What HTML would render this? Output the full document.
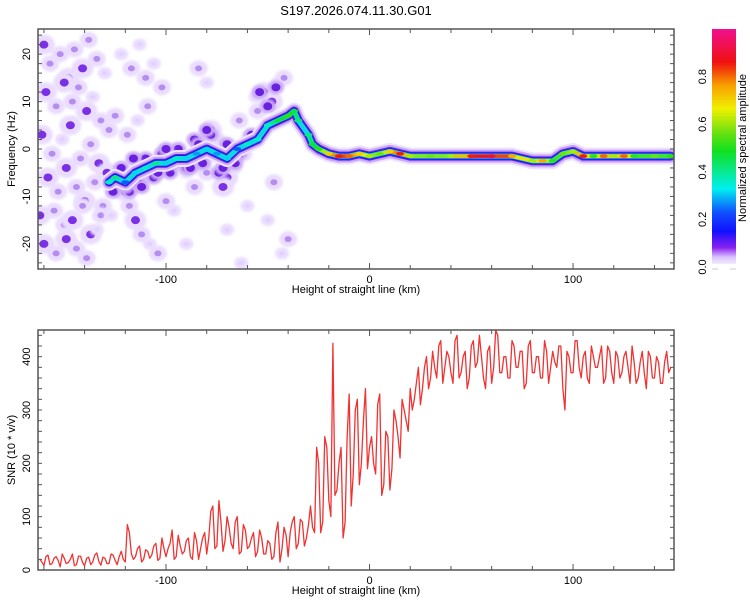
<!DOCTYPE html>
<html><head><meta charset="utf-8">
<style>
body{margin:0;background:#fff;width:750px;height:600px;overflow:hidden;font-family:"Liberation Sans",sans-serif;}
svg text{font-family:"Liberation Sans",sans-serif;fill:#000;}
</style></head>
<body>
<svg id="chart" width="750" height="600" viewBox="0 0 750 600" xmlns="http://www.w3.org/2000/svg">
<defs>
<linearGradient id="cbar" x1="0" y1="1" x2="0" y2="0">
<stop offset="0" stop-color="#f4ecff"/>
<stop offset="0.03" stop-color="#d8c0ff"/>
<stop offset="0.07" stop-color="#8a20f0"/>
<stop offset="0.14" stop-color="#1010ff"/>
<stop offset="0.22" stop-color="#1050ff"/>
<stop offset="0.32" stop-color="#00f0f0"/>
<stop offset="0.48" stop-color="#10e020"/>
<stop offset="0.55" stop-color="#60e010"/>
<stop offset="0.66" stop-color="#f0f000"/>
<stop offset="0.76" stop-color="#f8a000"/>
<stop offset="0.86" stop-color="#f01010"/>
<stop offset="1" stop-color="#f01090"/>
</linearGradient>
<filter id="blur" x="-50%" y="-50%" width="200%" height="200%"><feGaussianBlur stdDeviation="1.2"/></filter>
<clipPath id="clipTop"><rect x="38" y="29" width="636" height="240"/></clipPath>
<clipPath id="clipBot"><rect x="38" y="330" width="636" height="240"/></clipPath>
</defs>
<text x="356" y="15" font-size="13" text-anchor="middle">S197.2026.074.11.30.G01</text>
<g id="topPanel"></g>
<g id="botPanel"></g>
<g id="cbPanel"></g>
</svg>
<script>
// ---- data ----
const ridgeHeights=[-128,-125,-120,-115,-110,-105,-100,-95,-90,-85,-80,-75,-70,-65,-60,-55,-50,-45,-40,-37,-35,-30,-28,-25,-20,-15,-10,-5,0,5,10,15,20,30,40,50,60,70,80,85,90,95,100,105,110,115,120,125,130,140,148];
const ridgeFreqs=[-7,-6,-7,-5,-4,-3,-3,-2,-2,-1,0,-1,-2,0,1,2,5,6,7,8,6,3,1,0,-1,-1.5,-1.5,-1,-1.5,-1,-0.5,-1,-1.5,-1.5,-1.5,-1.5,-1.5,-1.5,-2.5,-2.5,-2.5,-1,-0.5,-1.5,-1.5,-1.5,-1.5,-1.5,-1.5,-1.5,-1.5];
const ridgeAmps=[0.35,0.4,0.2,0.3,0.35,0.4,0.3,0.35,0.3,0.25,0.3,0.25,0.3,0.2,0.35,0.35,0.35,0.45,0.5,0.45,0.4,0.4,0.45,0.5,0.7,0.85,0.8,0.7,0.6,0.55,0.7,0.85,0.6,0.55,0.6,0.85,0.9,0.75,0.6,0.75,0.5,0.55,0.6,0.85,0.5,0.8,0.6,0.8,0.5,0.55,0.5];
const blobHeights=[-160,-157,-152,-148,-145,-141,-138,-134,-130,-159,-154,-150,-146,-143,-139,-136,-132,-128,-161,-156,-151,-147,-142,-137,-133,-129,-158,-153,-149,-144,-140,-135,-131,-162,-155,-150,-146,-141,-137,-132,-160,-154,-149,-144,-139,-134,-120,-118,-115,-112,-108,-104,-100,-96,-122,-117,-113,-110,-106,-102,-119,-114,-109,-90,-86,-82,-78,-74,-70,-66,-62,-58,-55,-52,-48,-45,-42,-84,-80,-76,-72,-68,-64,-60,-56,-50,-47,-43,-40,-63,-70,-80,-90,-110,-125,-127];
const blobFreqs=[22,18,20,15,21,17,23,19,16,12,9,14,10,13,8,11,6,4,3,-1,2,5,-2,1,-3,-5,-6,-9,-4,-8,-11,-7,-12,-14,-13,-16,-15,-12,-18,-14,-20,-22,-19,-21,-23,-17,-9,-12,-15,-18,-20,-22,-11,-13,20,17,22,15,18,13,3,6,9,-5,-8,-3,4,2,-6,-4,-1,2,8,12,10,14,15,17,-5,3,-8,-2,6,-12,11,-15,-7,-22,-19,-24,-17,14,-20,-6,7,-14];
const blobLevels=[3,2,2,3,2,3,2,2,1,3,2,3,2,2,3,1,2,2,3,2,1,3,2,2,3,3,3,2,3,2,3,2,2,3,2,2,3,2,3,2,3,2,3,2,2,1,3,2,3,2,1,2,2,1,1,2,1,2,1,2,2,1,2,1,2,2,3,1,3,1,2,3,2,3,3,1,2,2,2,1,3,2,2,1,1,1,2,1,2,1,1,1,1,1,2,1];
// dark purple scatter around the left part of the ridge
const nearHeights=[-126,-122,-118,-114,-110,-106,-102,-98,-94,-90,-86,-82,-78,-74,-70,-66,-120,-112,-104,-96,-88,-80,-72,-64,-58,-54,-50,-46,-116,-100,-84,-76];
const nearFreqs=[-9,-4,-9,-7,-2,-6,-1,-5,0,-4,2,-3,3,-5,1,-3,-8,-8,-5,-3,-4,4,-4,-1,3,12,9,13,-2,0,1,-1];
const snrStart=-162, snrStep=2;
const snrValues=[20,8,28,12,25,6,22,14,30,10,26,8,24,15,32,9,22,12,28,10,35,15,
70,20,40,15,38,22,45,18,60,25,
50,20,65,30,55,25,70,20,60,30,
110,40,130,35,100,50,90,30,85,40,
60,25,75,30,55,20,70,15,80,25,
90,40,95,45,85,
80,230,70,250,130,425,150,230,90,330,180,320,200,340,230,
200,310,140,260,150,300,250,320,280,340,
320,380,340,400,360,
380,420,350,410,370,430,360,400,340,420,380,440,360,410,350,450,370,400,360,430,380,410,340,420,370,400,360,430,350,410,380,420,300,400,370,430,360,410,350,400,380,420,360,410,350,400,370,410,350,390,360,410,340,400,360,390,350,410,380];
const snrStartB=-161;
const snrValuesB=[15,25,10,22,18,30,12,20,8,26,14,22,10,28,16,24,12,30,18,25,20,
85,30,25,45,20,35,28,50,22,40,
40,75,25,45,35,60,20,55,40,70,
60,120,45,90,55,80,40,100,35,75,
45,70,35,60,30,50,25,90,40,65,
70,100,50,90,60,
120,70,200,90,230,100,140,200,60,250,120,300,160,280,190,
250,180,330,160,250,190,280,210,300,260,
300,350,310,380,340,
410,360,430,380,400,350,440,370,410,360,430,390,400,340,420,380,440,370,400,360,420,380,410,350,430,370,400,360,410,380,390,420,340,410,370,430,380,400,360,420,380,400,350,420,370,410,360,400,380,420,350,390,370,410,360,400,350,390,370];
const xTickLabels=[-100,0,100];
const topYTickLabels=[-20,-10,0,10,20];
const botYTickLabels=[0,100,200,300,400];
const cbTickLabels=[0.0,0.2,0.4,0.6,0.8];

// ---- scales ----
const L=38,R=674;
const xMin=-162.9,xMax=149.6;
const X=v=>L+(v-xMin)/(xMax-xMin)*(R-L);
const TT=29,TB=269, fMin=-25.3,fMax=25.3;
const YF=v=>TB-(v-fMin)/(fMax-fMin)*(TB-TT);
const BT=330,BB=570, sMin=0,sMax=450;
const YS=v=>BB-(v-sMin)/(sMax-sMin)*(BB-BT);
const CT=29,CBt=267;
const YC=v=>CBt-v*(CBt-CT);
const NS="http://www.w3.org/2000/svg";
function mk(tag,attrs,parent){const e=document.createElementNS(NS,tag);for(const k in attrs)e.setAttribute(k,attrs[k]);parent.appendChild(e);return e;}
function ampColor(a){
 const st=[[0,[244,236,255]],[0.07,[138,32,240]],[0.14,[16,16,255]],[0.32,[0,240,240]],[0.48,[16,224,32]],[0.66,[240,240,0]],[0.76,[248,160,0]],[0.86,[240,16,16]],[1,[240,16,144]]];
 for(let i=1;i<st.length;i++){if(a<=st[i][0]){const t=(a-st[i-1][0])/(st[i][0]-st[i-1][0]);const c=st[i-1][1].map((v,j)=>Math.round(v+(st[i][1][j]-v)*t));return `rgb(${c})`;}}
 return 'rgb(240,16,144)';
}
const topG=document.getElementById('topPanel'),botG=document.getElementById('botPanel'),cbG=document.getElementById('cbPanel');

// ---- spectrogram ----
const tg=mk('g',{'clip-path':'url(#clipTop)'},topG);
const blobCol={1:'#e2d0ff',2:'#b58cf2',3:'#7b30e6'};
blobHeights.forEach((h,i)=>{
 const lv=blobLevels[i]||1;
 const f=blobFreqs[i]!==undefined?blobFreqs[i]:0;
 const halo=mk('ellipse',{cx:X(h),cy:YF(f),rx:lv*2+5,ry:lv*2+4,fill:'#eadcff',filter:'url(#blur)'},tg);
 
 
 const b=mk('ellipse',{cx:X(h),cy:YF(f),rx:lv+1.5,ry:lv+1,fill:blobCol[lv]},tg);
 
 
});
nearHeights.forEach((h,i)=>{
 const halo=mk('ellipse',{cx:X(h),cy:YF(nearFreqs[i]),rx:8,ry:7,fill:'#c9a8f5',filter:'url(#blur)'},tg);
 
 
 const b=mk('ellipse',{cx:X(h),cy:YF(nearFreqs[i]),rx:4.5,ry:4,fill:'#6a20e0'},tg);
 
 
});
const pts=ridgeHeights.map((h,i)=>X(h)+','+YF(ridgeFreqs[i])).join(' ');
const layers=[[17,'#eee3ff'],[13,'#c8a6f6'],[9,'#6a20e8'],[7,'#1818f0'],[5,'#10d8e0']];
layers.forEach(([w,c])=>{
 const pl=mk('polyline',{points:pts,fill:'none',stroke:c,'stroke-width':w,'stroke-linejoin':'round','stroke-linecap':'round'},tg);
 
 
});
for(let i=0;i<ridgeHeights.length-1;i++){
 const a=Math.max(ridgeAmps[i],ridgeAmps[i+1]);
 if(a<0.45) continue;
 const s=mk('line',{x1:X(ridgeHeights[i]),y1:YF(ridgeFreqs[i]),x2:X(ridgeHeights[i+1]),y2:YF(ridgeFreqs[i+1]),stroke:ampColor((ridgeAmps[i]+ridgeAmps[i+1])/2),'stroke-width':3.5,'stroke-linecap':'round'},tg);
 
 
}
ridgeHeights.forEach((h,i)=>{
 const c=mk('ellipse',{cx:X(h),cy:YF(ridgeFreqs[i]),rx:4,ry:2,fill:ampColor(ridgeAmps[i])},tg);
 
 
});

// ---- SNR ----
const merged=[];
snrValues.forEach((v,i)=>merged.push([snrStart+i*snrStep,v]));
snrValuesB.forEach((v,i)=>merged.push([snrStartB+i*snrStep,v]));
merged.sort((a,b)=>a[0]-b[0]);
const sp=merged.map(p=>X(p[0])+','+YS(p[1])).join(' ');
const bg=mk('g',{'clip-path':'url(#clipBot)'},botG);
const line=mk('polyline',{points:sp,fill:'none',stroke:'#f03232','stroke-width':1.3,'stroke-linejoin':'round'},bg);



// ---- axes ----
function frame(parent,t,b,yTicks,Yf,minorStep,yMin,yMax,yTitle,name){
 const f=mk('rect',{x:L,y:t,width:R-L,height:b-t,fill:'none',stroke:'#555','stroke-width':1.5},parent);
 
 
 for(let v=-160;v<=140;v+=20){
  const x=X(v),len=(v%100===0)?6:4;
  mk('line',{x1:x,y1:b,x2:x,y2:b-len,stroke:'#555'},parent);
  mk('line',{x1:x,y1:t,x2:x,y2:t+len,stroke:'#555'},parent);
 }
 for(let v=Math.ceil(yMin/minorStep)*minorStep;v<=yMax;v+=minorStep){
  const y=Yf(v);
  mk('line',{x1:L,y1:y,x2:L+4,y2:y,stroke:'#555'},parent);
  mk('line',{x1:R,y1:y,x2:R-4,y2:y,stroke:'#555'},parent);
 }
 xTickLabels.forEach(v=>{
  const tx=mk('text',{x:X(v),y:b+14,'font-size':11,'text-anchor':'middle'},parent);
  tx.textContent=v;
  
  
 });
 yTicks.forEach(v=>{
  const y=Yf(v);
  const tx=mk('text',{x:30,y:y,'font-size':11,'text-anchor':'middle',transform:`rotate(-90 30 ${y})`},parent);
  tx.textContent=v;
  
  
 });
 const xt=mk('text',{x:356,y:b+24,'font-size':11,'text-anchor':'middle'},parent);
 xt.textContent='Height of straight line (km)';
 
 
 const ym=(t+b)/2;
 const yt=mk('text',{x:15,y:ym,'font-size':11,'text-anchor':'middle',transform:`rotate(-90 15 ${ym})`},parent);
 yt.textContent=yTitle;
 
 
}
frame(topG,TT,TB,topYTickLabels,YF,2,-24,24,'Frequency (Hz)','spectrogram');
frame(botG,BT,BB,botYTickLabels,YS,20,0,440,'SNR (10 * v/v)','snr');

// ---- colorbar ----
const cr=mk('rect',{x:712,y:CT,width:24,height:CBt-CT-3,fill:'url(#cbar)'},cbG);


cbTickLabels.forEach(v=>{
 const y=YC(v);
 const tx=mk('text',{x:706,y:y,'font-size':11,'text-anchor':'middle',transform:`rotate(-90 706 ${y})`},cbG);
 tx.textContent=v.toFixed(1);
 
 
});
mk('line',{x1:712,y1:269,x2:718,y2:269,stroke:'#ccc'},cbG);
mk('line',{x1:730,y1:269,x2:736,y2:269,stroke:'#ccc'},cbG);
const ct=mk('text',{x:746,y:148,'font-size':11,'text-anchor':'middle',transform:'rotate(-90 746 148)'},cbG);
ct.textContent='Normalized spectral amplitude';


</script>
</body></html>
